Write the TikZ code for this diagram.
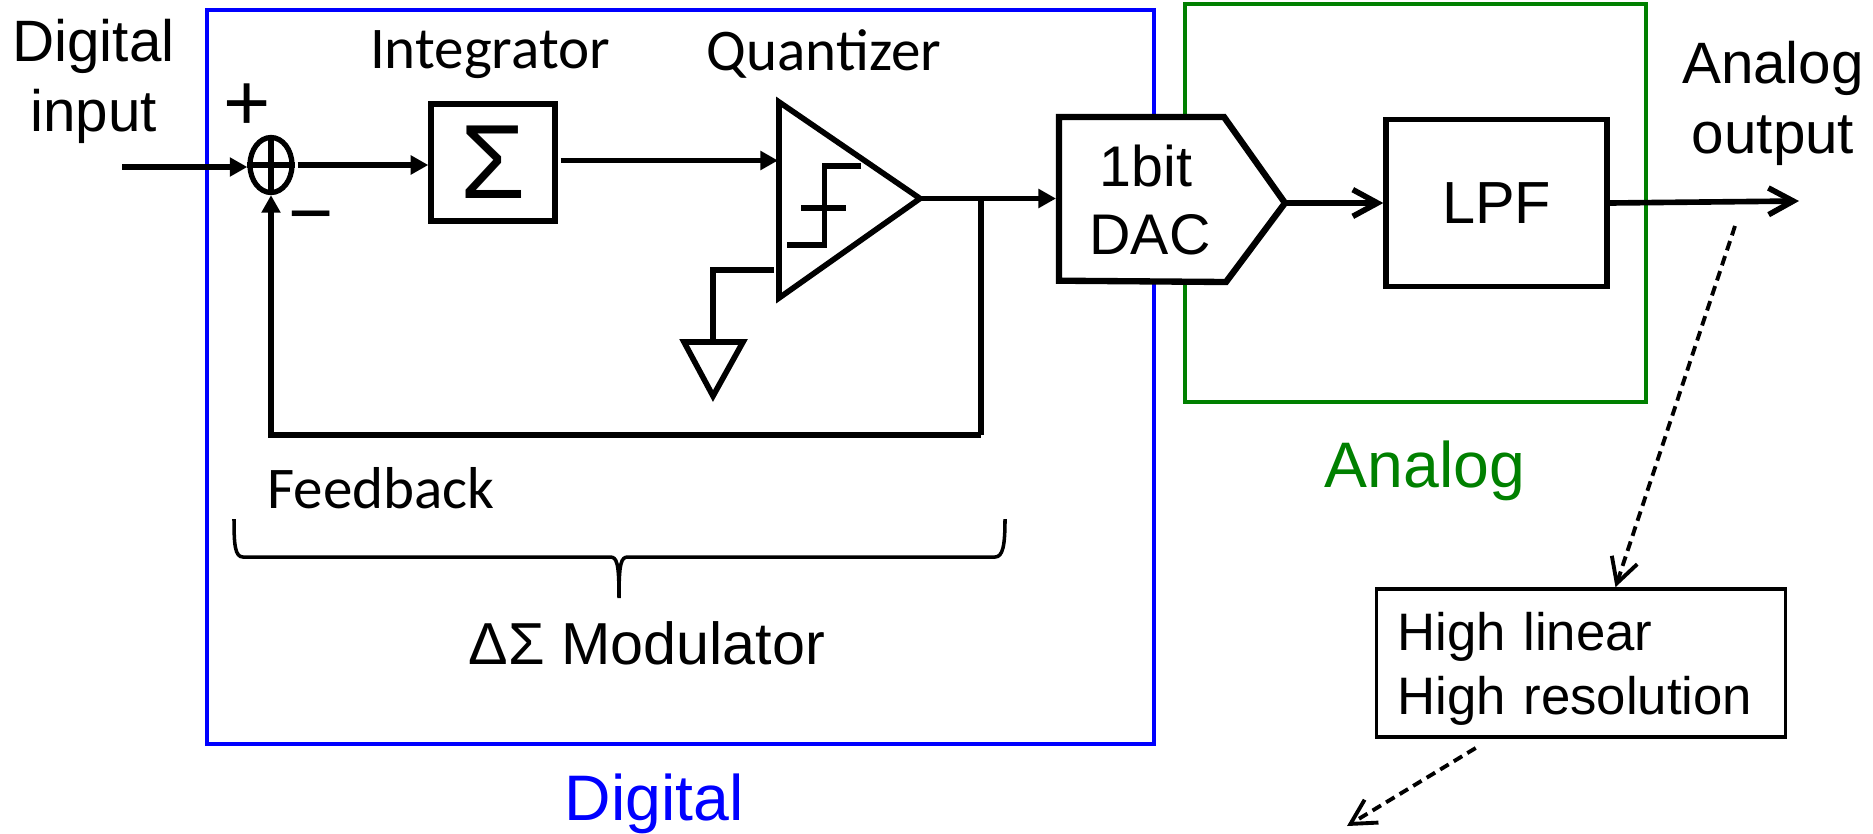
\documentclass[tikz,border=0pt]{standalone}
\usepackage{fontspec}
\setmainfont{Liberation Sans}
\newfontfamily\carlitofont{Carlito}
\usepackage{xcolor}
\usepackage{tikz}
\usetikzlibrary{arrows.meta,shapes.geometric}
\definecolor{digitalblue}{RGB}{0,0,255}
\definecolor{analoggreen}{RGB}{0,128,0}
\tikzset{
  wire/.style={line width=1.6pt},
  barb/.style={-{Straight Barb[length=7pt,width=7.6pt]}},
  dashline/.style={line width=1.1pt,dash pattern=on 2.8pt off 1.7pt},
  blockbox/.style={draw,line width=1.5pt,inner sep=0pt},
  zone/.style={draw,line width=1.1pt,inner sep=0pt},
  plainlabel/.style={inner sep=0pt,font=\fontsize{16.6pt}{19.9pt}\selectfont,align=center},
  blocklabel/.style={inner sep=0pt,font=\carlitofont\fontsize{16.8pt}{19.9pt}\selectfont,anchor=base},
  zonelabel/.style={inner sep=0pt,font=\fontsize{18.3pt}{20pt}\selectfont,anchor=base}
}
\begin{document}
\begin{tikzpicture}[x=0.01cm,y=-0.01cm,>={Triangle[length=5pt,width=5.2pt]}]
\useasboundingbox (0,0) rectangle (1873,833);
\node[zone,draw=digitalblue,minimum width=9.465cm,minimum height=7.33cm] (digital) at (680.5,377) {};
\node[zone,draw=analoggreen,minimum width=4.61cm,minimum height=3.98cm] (analog) at (1415.5,203) {};
\node[zonelabel,digitalblue] (digitaltxt) at (654,820) {Digital};
\node[zonelabel,analoggreen] (analogtxt) at (1425,487) {Analog};

\node[plainlabel] (intxt) at (93.5,81) {Digital\\input};
\node[plainlabel] (outtxt) at (1773,103) {Analog\\output};
\node[inner sep=0pt,font=\fontsize{23pt}{25pt}\selectfont] (plus) at (247,107) {+};
\node[inner sep=0pt,font=\fontsize{22pt}{25pt}\selectfont] (minus) at (311,225) {−};
\node[blocklabel] (integtxt) at (490,68) {Integrator};
\node[blocklabel] (quanttxt) at (824,70) {Quantizer};
\node[blocklabel] (fbtxt) at (381,508) {Feedback};

\node[draw,ellipse,line width=1.5pt,inner sep=0pt,minimum width=0.42cm,minimum height=0.55cm] (sum) at (271,165) {};
\draw[line width=1.5pt] (sum.north) -- (sum.south);
\draw[line width=1.5pt] (sum.west) -- (sum.east);
\node[blockbox,minimum width=1.24cm,minimum height=1.17cm,font=\fontsize{30pt}{32pt}\selectfont] (integ) at (493,162.5) {Σ};
\node[blockbox,minimum width=2.21cm,minimum height=1.67cm,font=\fontsize{16.9pt}{20pt}\selectfont] (lpf) at (1496.5,203) {LPF};

\coordinate (qtop) at (779,102);
\coordinate (qbot) at (779,298);
\coordinate (qtip) at (920,198.5);
\coordinate (qin) at (778,160.5);
\coordinate (qref) at (774,270);
\coordinate (gndtop) at (713,342);
\coordinate (dacin) at (1056,198.5);
\coordinate (dactip) at (1285,203);
\coordinate (tap) at (980.7,198.5);
\coordinate (fbcorner) at (980.7,435);
\coordinate (in) at (122,167);
\coordinate (out) at (1799,201);

\draw[wire] (qtop) -- (qtip) -- (qbot) -- cycle;
\draw[wire] (861,166) -- (824.5,166) -- (824.5,245) -- (786.5,245);
\draw[wire] (801,207.7) -- (846,207.7);
\draw[wire] (684,342) -- (743,342) -- (713,396) -- cycle;
\draw[wire] (qref) -| (gndtop);

\draw[wire,fill=white,line width=1.8pt] (1059,117) -- (1224,117) -- (dactip) -- (1226,282) -- (1059,280.7) -- cycle;
\node[plainlabel,font=\fontsize{16.3pt}{19.6pt}\selectfont] (dac) at (1150,200) {1bit\hspace*{2.4pt}\\DAC};

\draw[wire,->] (in) -- (in -| sum.west);
\draw[wire,->,shorten <=0.03cm] (sum.east) -- (sum.east -| integ.west);
\draw[wire,->,shorten <=0.03cm] (qin -| integ.east) -- (qin);
\draw[wire,->] (qtip) -- (dacin);
\draw[wire] (tap) -- (fbcorner);
\draw[wire,->] (fbcorner) -| (sum.south);
\draw[wire,barb] (dactip) -- (dactip -| lpf.west);
\draw[wire,barb] (lpf.east) -- (out);

\draw[line width=1pt] (234,519) .. controls (234,545) and (235,557) .. (243,557) -- (610,557) .. controls (617,557) and (619,563) .. (619,598) .. controls (619,563) and (621,557) .. (628,557) -- (995,557) .. controls (1003,557) and (1005,545) .. (1005,519);
\node[inner sep=0pt,anchor=base,font=\fontsize{16.85pt}{20pt}\selectfont] (dsm) at (647,664) {ΔΣ Modulator};

\node[draw,line width=1pt,inner sep=0pt,minimum width=4.09cm,minimum height=1.48cm,text width=3.67cm,align=left,font=\fontsize{15pt}{18.2pt}\selectfont] (spec) at (1581,663) {\rule{0pt}{14pt}High linear\\High resolution};
\coordinate (dash1) at (1735,226);
\coordinate (dash2) at (1347,826);
\coordinate (dash3) at (1475.7,748);
\draw[dashline,barb] (dash1) -- (spec.north -| 1615.5,0);
\draw[dashline,barb] (dash3) -- (dash2);
\end{tikzpicture}
\end{document}
